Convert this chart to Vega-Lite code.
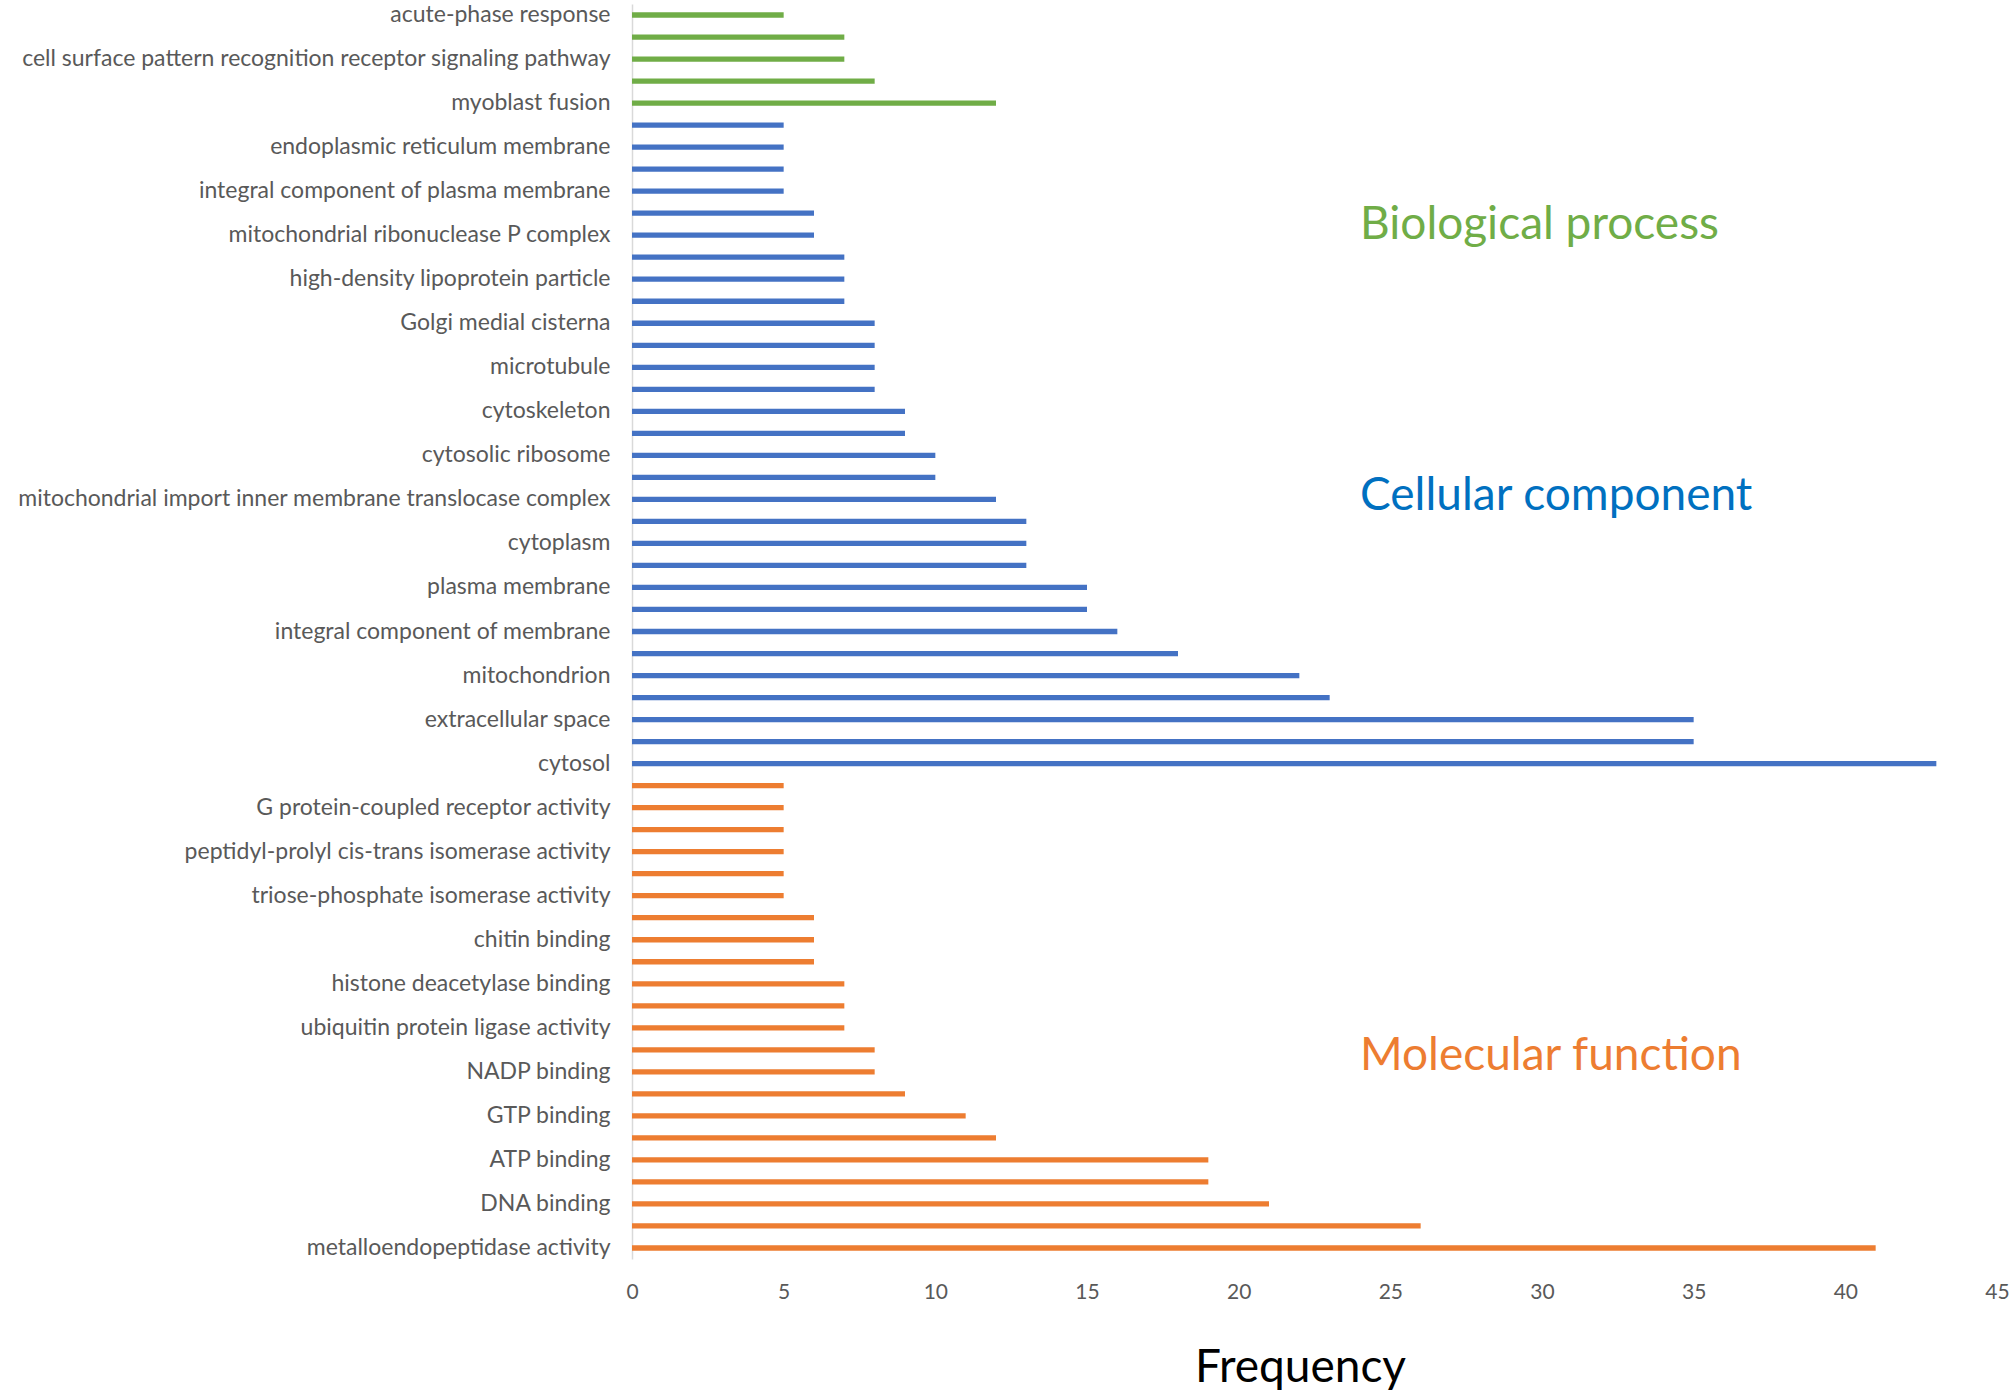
{
  "$schema": "https://vega.github.io/schema/vega-lite/v6.json",
  "autosize": "none",
  "width": 1365,
  "height": 1255,
  "padding": {"left": 632, "top": 4, "right": 17, "bottom": 135},
  "background": "white",
  "config": {"view": {"stroke": null}, "font": "Lato"},
  "datasets": {
    "bars": [
      {"term": "acute-phase response", "freq": 5, "ontology": "Biological process"},
      {"term": "unlabeled 1", "freq": 7, "ontology": "Biological process"},
      {"term": "cell surface pattern recognition receptor signaling pathway", "freq": 7, "ontology": "Biological process"},
      {"term": "unlabeled 2", "freq": 8, "ontology": "Biological process"},
      {"term": "myoblast fusion", "freq": 12, "ontology": "Biological process"},
      {"term": "unlabeled 3", "freq": 5, "ontology": "Cellular component"},
      {"term": "endoplasmic reticulum membrane", "freq": 5, "ontology": "Cellular component"},
      {"term": "unlabeled 4", "freq": 5, "ontology": "Cellular component"},
      {"term": "integral component of plasma membrane", "freq": 5, "ontology": "Cellular component"},
      {"term": "unlabeled 5", "freq": 6, "ontology": "Cellular component"},
      {"term": "mitochondrial ribonuclease P complex", "freq": 6, "ontology": "Cellular component"},
      {"term": "unlabeled 6", "freq": 7, "ontology": "Cellular component"},
      {"term": "high-density lipoprotein particle", "freq": 7, "ontology": "Cellular component"},
      {"term": "unlabeled 7", "freq": 7, "ontology": "Cellular component"},
      {"term": "Golgi medial cisterna", "freq": 8, "ontology": "Cellular component"},
      {"term": "unlabeled 8", "freq": 8, "ontology": "Cellular component"},
      {"term": "microtubule", "freq": 8, "ontology": "Cellular component"},
      {"term": "unlabeled 9", "freq": 8, "ontology": "Cellular component"},
      {"term": "cytoskeleton", "freq": 9, "ontology": "Cellular component"},
      {"term": "unlabeled 10", "freq": 9, "ontology": "Cellular component"},
      {"term": "cytosolic ribosome", "freq": 10, "ontology": "Cellular component"},
      {"term": "unlabeled 11", "freq": 10, "ontology": "Cellular component"},
      {"term": "mitochondrial import inner membrane translocase complex", "freq": 12, "ontology": "Cellular component"},
      {"term": "unlabeled 12", "freq": 13, "ontology": "Cellular component"},
      {"term": "cytoplasm", "freq": 13, "ontology": "Cellular component"},
      {"term": "unlabeled 13", "freq": 13, "ontology": "Cellular component"},
      {"term": "plasma membrane", "freq": 15, "ontology": "Cellular component"},
      {"term": "unlabeled 14", "freq": 15, "ontology": "Cellular component"},
      {"term": "integral component of membrane", "freq": 16, "ontology": "Cellular component"},
      {"term": "unlabeled 15", "freq": 18, "ontology": "Cellular component"},
      {"term": "mitochondrion", "freq": 22, "ontology": "Cellular component"},
      {"term": "unlabeled 16", "freq": 23, "ontology": "Cellular component"},
      {"term": "extracellular space", "freq": 35, "ontology": "Cellular component"},
      {"term": "unlabeled 17", "freq": 35, "ontology": "Cellular component"},
      {"term": "cytosol", "freq": 43, "ontology": "Cellular component"},
      {"term": "unlabeled 18", "freq": 5, "ontology": "Molecular function"},
      {"term": "G protein-coupled receptor activity", "freq": 5, "ontology": "Molecular function"},
      {"term": "unlabeled 19", "freq": 5, "ontology": "Molecular function"},
      {"term": "peptidyl-prolyl cis-trans isomerase activity", "freq": 5, "ontology": "Molecular function"},
      {"term": "unlabeled 20", "freq": 5, "ontology": "Molecular function"},
      {"term": "triose-phosphate isomerase activity", "freq": 5, "ontology": "Molecular function"},
      {"term": "unlabeled 21", "freq": 6, "ontology": "Molecular function"},
      {"term": "chitin binding", "freq": 6, "ontology": "Molecular function"},
      {"term": "unlabeled 22", "freq": 6, "ontology": "Molecular function"},
      {"term": "histone deacetylase binding", "freq": 7, "ontology": "Molecular function"},
      {"term": "unlabeled 23", "freq": 7, "ontology": "Molecular function"},
      {"term": "ubiquitin protein ligase activity", "freq": 7, "ontology": "Molecular function"},
      {"term": "unlabeled 24", "freq": 8, "ontology": "Molecular function"},
      {"term": "NADP binding", "freq": 8, "ontology": "Molecular function"},
      {"term": "unlabeled 25", "freq": 9, "ontology": "Molecular function"},
      {"term": "GTP binding", "freq": 11, "ontology": "Molecular function"},
      {"term": "unlabeled 26", "freq": 12, "ontology": "Molecular function"},
      {"term": "ATP binding", "freq": 19, "ontology": "Molecular function"},
      {"term": "unlabeled 27", "freq": 19, "ontology": "Molecular function"},
      {"term": "DNA binding", "freq": 21, "ontology": "Molecular function"},
      {"term": "unlabeled 28", "freq": 26, "ontology": "Molecular function"},
      {"term": "metalloendopeptidase activity", "freq": 41, "ontology": "Molecular function"}
    ],
    "notes": [
      {"label": "Biological process", "x": 24, "anchor": "mitochondrial ribonuclease P complex"},
      {"label": "Cellular component", "x": 24, "anchor": "mitochondrial import inner membrane translocase complex"},
      {"label": "Molecular function", "x": 24, "anchor": "NADP binding"}
    ]
  },
  "layer": [
    {
      "data": {"name": "bars"},
      "mark": {"type": "bar"},
      "encoding": {
        "y": {
          "field": "term", "type": "nominal", "sort": null,
          "scale": {"paddingInner": 0.76, "paddingOuter": 0.38},
          "axis": {
            "title": null, "ticks": false, "domain": true, "domainColor": "#D9D9D9", "domainWidth": 1.5,
            "labelFontSize": 23, "labelColor": "#595959", "labelPadding": 22, "labelLimit": 1000,
            "labelExpr": "indexof(datum.value, 'unlabeled ') == 0 ? '' : datum.value"
          }
        },
        "x": {
          "field": "freq", "type": "quantitative",
          "scale": {"domain": [0, 45], "nice": false},
          "axis": {
            "title": "Frequency", "values": [0, 5, 10, 15, 20, 25, 30, 35, 40, 45],
            "domain": false, "ticks": false, "grid": false, "labelFlush": false,
            "labelFontSize": 21, "labelColor": "#595959", "labelPadding": 22,
            "titleFontSize": 46, "titleFontWeight": "normal", "titleColor": "#000000", "titlePadding": 43,
            "titleX": 668
          }
        },
        "color": {
          "field": "ontology", "type": "nominal",
          "scale": {"domain": ["Biological process", "Cellular component", "Molecular function"], "range": ["#70AD47", "#4472C4", "#ED7D31"]},
          "legend": null
        }
      }
    },
    {
      "data": {"name": "notes"},
      "transform": [{"filter": "datum.label == 'Biological process'"}],
      "mark": {"type": "text", "align": "left", "baseline": "middle", "fontSize": 46, "color": "#70AD47", "dy": -10},
      "encoding": {
        "y": {"field": "anchor", "type": "nominal", "sort": null},
        "x": {"field": "x", "type": "quantitative"},
        "text": {"field": "label"}
      }
    },
    {
      "data": {"name": "notes"},
      "transform": [{"filter": "datum.label == 'Cellular component'"}],
      "mark": {"type": "text", "align": "left", "baseline": "middle", "fontSize": 46, "color": "#0070C0", "dy": -3},
      "encoding": {
        "y": {"field": "anchor", "type": "nominal", "sort": null},
        "x": {"field": "x", "type": "quantitative"},
        "text": {"field": "label"}
      }
    },
    {
      "data": {"name": "notes"},
      "transform": [{"filter": "datum.label == 'Molecular function'"}],
      "mark": {"type": "text", "align": "left", "baseline": "middle", "fontSize": 46, "color": "#ED7D31", "dy": -16},
      "encoding": {
        "y": {"field": "anchor", "type": "nominal", "sort": null},
        "x": {"field": "x", "type": "quantitative"},
        "text": {"field": "label"}
      }
    }
  ]
}
